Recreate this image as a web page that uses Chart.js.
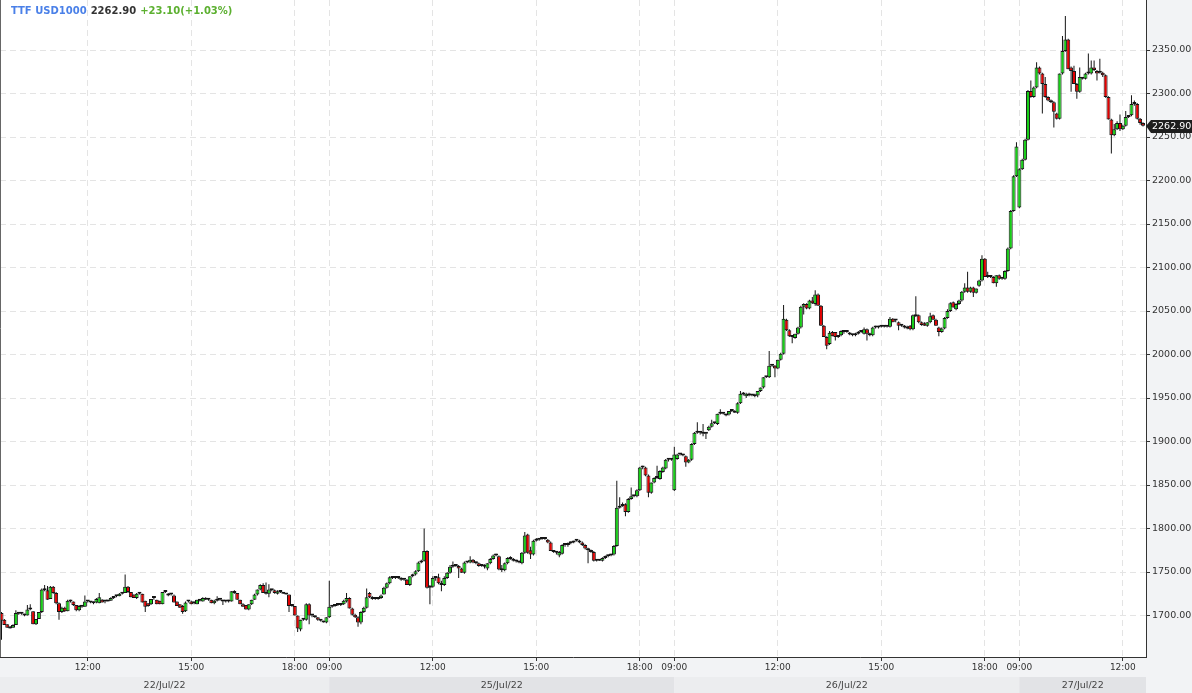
<!DOCTYPE html>
<html>
<head>
<meta charset="utf-8">
<script src="https://cdn.jsdelivr.net/npm/chart.js@4.4.0/dist/chart.umd.min.js"></script>
<style>
  html, body { margin: 0; padding: 0; background: #fff; overflow: hidden; }
  #wrap { width: 1192px; height: 693px; }
</style>
</head>
<body>
<div id="wrap"><canvas id="chart" width="1192" height="693"></canvas></div>
<script>
// instrument header
const symbolName = "TTF USD1000";
const lastPrice = 2262.90;
const priceChange = 23.10;
const pctChange = 1.03;

// sessions: date label and time of the first 5-minute bar shown
const dayLabels = ["22/Jul/22", "25/Jul/22", "26/Jul/22", "27/Jul/22"];
const firstBarTime = ["09:30", "09:00", "09:00", "09:00"];

// x axis labels: [session, time]
const timeTicks = [
    [0, "12:00"], [0, "15:00"], [0, "18:00"],
    [1, "09:00"], [1, "12:00"], [1, "15:00"], [1, "18:00"],
    [2, "09:00"], [2, "12:00"], [2, "15:00"], [2, "18:00"],
    [3, "09:00"], [3, "12:00"],
];
const yTicks = [1700, 1750, 1800, 1850, 1900, 1950, 2000, 2050, 2100, 2150, 2200, 2250, 2300, 2350];

// 5-minute candles [open, high, low, close]
const day1 = [
    [1703,1704,1672,1694],[1695,1696,1689,1689],[1690,1690,1686,1686],[1687,1688,1685,1685],[1686,1690,1686,1689],
    [1689,1706,1689,1703],[1703,1704,1701,1702],[1702,1703,1701,1702],[1701,1702,1699,1700],[1700,1712,1700,1707],
    [1707,1713,1706,1707],[1705,1705,1690,1690],[1690,1696,1689,1696],[1696,1704,1696,1704],[1704,1731,1703,1730],
    [1730,1735,1728,1729],[1729,1734,1718,1718],[1719,1734,1719,1733],[1733,1734,1725,1726],[1726,1727,1713,1714],
    [1714,1715,1695,1704],[1704,1710,1703,1709],[1709,1710,1704,1705],[1705,1718,1705,1717],[1717,1718,1715,1716],
    [1716,1716,1711,1712],[1712,1712,1705,1706],[1706,1712,1705,1711],[1711,1712,1709,1710],[1710,1723,1710,1716],
    [1716,1717,1715,1716],[1716,1716,1714,1715],[1714,1716,1713,1716],[1715,1720,1714,1719],[1714,1726,1714,1721],
    [1718,1719,1715,1715],[1716,1717,1714,1716],[1716,1718,1716,1717],[1717,1721,1717,1720],[1720,1722,1719,1721],
    [1722,1723,1721,1722],[1722,1726,1722,1725],[1725,1726,1724,1725],[1726,1747,1726,1733],[1733,1734,1726,1727],
    [1727,1727,1721,1721],[1724,1724,1720,1720],[1720,1726,1719,1725],[1725,1726,1724,1725],[1725,1725,1715,1715],
    [1717,1717,1704,1710],[1714,1714,1710,1711],[1713,1719,1712,1719],[1720,1721,1718,1720],[1718,1718,1713,1713],
    [1717,1717,1713,1713],[1713,1727,1713,1727],[1727,1728,1726,1727],[1723,1726,1722,1725],[1724,1725,1723,1724],
    [1723,1724,1715,1715],[1716,1716,1711,1711],[1713,1713,1709,1709],[1711,1712,1702,1704],[1705,1716,1704,1715],
    [1716,1717,1715,1716],[1716,1717,1713,1713],[1714,1715,1713,1714],[1713,1718,1713,1718],[1717,1718,1716,1717],
    [1716,1721,1716,1720],[1720,1721,1718,1718],[1718,1719,1717,1718],[1718,1718,1714,1714],[1714,1718,1713,1717],
    [1717,1722,1716,1718],[1718,1719,1717,1718],[1718,1718,1712,1716],[1716,1717,1715,1716],[1716,1718,1715,1718],
    [1716,1728,1716,1728],[1728,1729,1725,1726],[1726,1726,1718,1718],[1718,1718,1713,1713],[1713,1714,1710,1710],
    [1712,1712,1707,1707],[1707,1713,1706,1713],[1713,1718,1712,1718],[1718,1725,1718,1724],[1724,1730,1723,1730],
    [1730,1736,1729,1735],[1735,1737,1726,1726],[1726,1738,1724,1725],[1725,1736,1721,1730],[1729,1730,1728,1729],
    [1729,1730,1725,1726],[1725,1729,1724,1728],[1728,1728,1726,1727],[1727,1727,1725,1725],[1725,1726,1724,1724],
    [1724,1724,1704,1711],[1711,1712,1710,1711],[1711,1711,1700,1700],[1700,1700,1681,1685],[1684,1695,1682,1695],
    [1695,1696,1694,1695],[1695,1714,1694,1713],[1713,1714,1690,1700],[1700,1701,1698,1700],[1700,1700,1697,1698],
    [1698,1698,1694,1695],[1695,1696,1693,1694],[1694,1694,1692,1692],[1692,1698,1691,1698],
];
const day2 = [
    [1698,1740,1697,1710],[1710,1712,1709,1711],[1711,1712,1710,1712],[1712,1713,1711,1712],[1712,1714,1711,1713],
    [1713,1718,1712,1717],[1716,1726,1715,1720],[1720,1721,1708,1708],[1708,1709,1700,1701],[1701,1702,1697,1698],
    [1698,1699,1687,1692],[1692,1705,1690,1704],[1704,1710,1703,1709],[1709,1731,1708,1721],[1726,1727,1720,1721],
    [1721,1722,1718,1719],[1719,1720,1718,1719],[1719,1721,1718,1720],[1720,1724,1719,1723],[1724,1733,1724,1732],
    [1732,1738,1731,1737],[1737,1745,1736,1744],[1744,1745,1742,1743],[1743,1744,1742,1743],[1743,1744,1742,1743],
    [1743,1744,1740,1741],[1741,1742,1740,1741],[1741,1742,1735,1735],[1735,1745,1734,1745],[1745,1748,1744,1747],
    [1747,1752,1746,1751],[1751,1762,1750,1761],[1761,1764,1760,1763],[1763,1800,1762,1774],[1774,1775,1731,1732],
    [1732,1735,1713,1733],[1733,1745,1732,1743],[1743,1745,1740,1744],[1744,1748,1736,1737],[1737,1740,1728,1735],
    [1735,1745,1734,1743],[1743,1750,1742,1749],[1749,1758,1748,1756],[1756,1762,1755,1758],[1758,1759,1756,1757],
    [1757,1758,1743,1754],[1754,1755,1749,1749],[1749,1762,1748,1761],[1761,1762,1760,1761],[1761,1768,1760,1764],
    [1764,1765,1760,1761],[1761,1762,1759,1760],[1760,1761,1756,1757],[1757,1758,1756,1757],[1756,1759,1754,1756],
    [1754,1760,1752,1760],[1760,1766,1759,1765],[1765,1770,1764,1769],[1769,1771,1768,1769],[1768,1769,1752,1753],
    [1753,1758,1750,1752],[1752,1761,1751,1760],[1760,1767,1759,1766],[1766,1768,1764,1765],[1765,1766,1762,1763],
    [1763,1764,1761,1762],[1762,1763,1760,1761],[1760,1773,1759,1772],[1772,1796,1771,1792],[1793,1794,1771,1772],
    [1775,1779,1765,1770],[1770,1787,1769,1786],[1786,1789,1785,1787],[1787,1789,1786,1788],[1788,1789,1787,1788],
    [1788,1789,1787,1788],[1787,1788,1783,1784],[1784,1785,1774,1774],[1774,1775,1772,1773],[1773,1774,1770,1772],
    [1769,1774,1767,1773],[1771,1782,1770,1781],[1781,1782,1779,1781],[1781,1784,1779,1783],[1783,1785,1782,1784],
    [1784,1786,1783,1785],[1786,1788,1785,1786],[1786,1787,1783,1784],[1784,1785,1780,1781],[1781,1782,1776,1777],
    [1777,1778,1760,1775],[1775,1776,1772,1773],[1773,1774,1762,1763],[1763,1765,1762,1764],[1764,1765,1763,1763],
    [1763,1767,1762,1766],[1766,1769,1765,1768],[1768,1770,1767,1769],[1769,1771,1768,1770],[1770,1781,1769,1780],
    [1780,1855,1779,1824],[1824,1836,1823,1826],[1826,1830,1825,1828],[1828,1829,1814,1819],[1819,1835,1818,1834],
    [1834,1847,1833,1837],[1837,1838,1836,1837],[1837,1845,1836,1844],[1844,1871,1843,1870],[1870,1872,1868,1870],
    [1870,1871,1860,1861],[1861,1862,1836,1841],[1841,1853,1840,1853],[1853,1859,1852,1858],[1858,1872,1857,1858],
    [1857,1867,1856,1866],[1865,1871,1864,1870],[1869,1880,1868,1879],[1879,1881,1877,1879],[1879,1880,1878,1879],
];
const day3 = [
    [1844,1894,1843,1885],[1880,1886,1879,1885],[1885,1886,1884,1885],[1885,1886,1883,1884],[1883,1884,1871,1876],
    [1876,1880,1875,1879],[1879,1898,1878,1897],[1897,1911,1896,1910],[1910,1922,1909,1910],[1910,1911,1908,1910],
    [1910,1920,1906,1909],[1909,1910,1903,1910],[1913,1918,1912,1917],[1917,1925,1916,1921],[1921,1922,1920,1921],
    [1920,1932,1919,1932],[1932,1937,1931,1932],[1932,1933,1931,1932],[1931,1932,1929,1930],[1931,1935,1930,1935],
    [1935,1936,1934,1935],[1935,1936,1933,1933],[1933,1945,1932,1944],[1944,1958,1943,1955],[1955,1957,1953,1954],
    [1952,1956,1950,1955],[1955,1956,1952,1953],[1953,1954,1952,1953],[1954,1955,1951,1952],[1953,1958,1951,1958],
    [1958,1962,1957,1962],[1962,1974,1961,1974],[1974,1975,1973,1974],[1974,2004,1973,1987],[1987,1988,1986,1987],
    [1987,1988,1974,1984],[1984,1994,1983,1994],[1994,2002,1993,2001],[2001,2057,2000,2041],[2040,2041,2027,2028],
    [2028,2029,2020,2021],[2021,2022,2013,2020],[2019,2024,2018,2024],[2024,2032,2023,2031],[2031,2056,2030,2055],
    [2055,2059,2046,2058],[2058,2059,2052,2053],[2053,2063,2052,2062],[2062,2066,2058,2059],[2058,2074,2056,2069],
    [2069,2070,2056,2056],[2056,2057,2033,2033],[2033,2034,2020,2020],[2020,2021,2006,2010],[2012,2027,2011,2025],
    [2026,2027,2021,2021],[2026,2026,2016,2020],[2020,2022,2019,2020],[2022,2028,2021,2027],[2026,2027,2024,2026],
    [2026,2027,2025,2026],[2025,2026,2022,2023],[2022,2024,2021,2023],[2022,2025,2021,2024],[2024,2027,2023,2026],
    [2026,2028,2025,2027],[2024,2031,2023,2029],[2029,2030,2016,2024],[2024,2025,2021,2022],[2022,2032,2021,2031],
    [2031,2033,2030,2031],[2031,2033,2030,2032],[2032,2033,2031,2032],[2032,2033,2031,2032],[2032,2033,2031,2032],
    [2032,2043,2031,2041],[2041,2042,2037,2037],[2039,2040,2037,2039],[2037,2038,2028,2033],[2033,2034,2032,2033],
    [2033,2034,2030,2031],[2030,2033,2029,2032],[2033,2034,2028,2029],[2029,2046,2028,2045],[2044,2067,2043,2044],
    [2045,2046,2036,2037],[2037,2038,2033,2034],[2036,2037,2033,2033],[2033,2037,2032,2037],[2037,2048,2036,2044],
    [2045,2046,2040,2040],[2040,2041,2033,2033],[2031,2032,2021,2026],[2026,2031,2025,2030],[2030,2043,2029,2042],
    [2042,2052,2041,2050],[2050,2060,2049,2059],[2060,2061,2054,2054],[2052,2059,2051,2058],[2058,2063,2057,2062],
    [2062,2073,2061,2072],[2072,2082,2071,2077],[2077,2095,2071,2072],[2072,2078,2071,2077],[2077,2078,2066,2071],
    [2071,2076,2070,2076],[2079,2086,2078,2085],[2085,2114,2084,2110],[2110,2111,2089,2089],[2089,2095,2088,2089],
    [2089,2090,2088,2089],[2089,2090,2082,2082],[2082,2091,2078,2091],[2091,2092,2086,2087],[2087,2088,2086,2087],
    [2087,2097,2086,2096],[2096,2123,2095,2122],[2122,2166,2121,2165],[2165,2206,2164,2205],[2205,2244,2204,2239],
];
const day4 = [
    [2169,2214,2168,2213],[2213,2225,2212,2224],[2224,2248,2223,2247],[2247,2304,2246,2303],[2303,2315,2295,2296],
    [2296,2308,2295,2307],[2307,2336,2306,2330],[2330,2331,2322,2323],[2323,2324,2277,2311],[2311,2319,2295,2296],
    [2296,2297,2291,2292],[2292,2293,2289,2290],[2290,2291,2261,2279],[2277,2278,2270,2271],[2271,2323,2270,2323],
    [2323,2366,2322,2349],[2349,2389,2348,2362],[2362,2363,2328,2328],[2330,2331,2302,2326],[2326,2332,2311,2311],
    [2311,2312,2294,2302],[2302,2330,2301,2319],[2318,2319,2316,2317],[2317,2324,2316,2323],[2323,2346,2322,2323],
    [2323,2338,2322,2330],[2330,2338,2326,2327],[2326,2327,2315,2323],[2324,2340,2323,2325],[2324,2325,2319,2321],
    [2321,2322,2295,2296],[2296,2297,2270,2270],[2270,2271,2231,2252],[2252,2265,2251,2259],[2259,2268,2258,2266],
    [2266,2276,2257,2259],[2259,2264,2258,2263],[2263,2280,2262,2273],[2273,2275,2272,2275],[2275,2298,2274,2288],
    [2288,2292,2286,2288],[2288,2289,2270,2271],[2271,2272,2264,2266],[2266,2267,2262,2262.9],
];

const days = [day1, day2, day3, day4];
const dayStart = [];
let count = 0;
days.forEach((d) => { dayStart.push(count); count += d.length; });
const candles = [].concat(...days);

function toMinutes(t) {
    const parts = t.split(":").map(Number);
    return parts[0] * 60 + parts[1];
}

// index of each labelled time (bars are 5 minutes apart)
const tickIndex = timeTicks.map(([d, t]) => dayStart[d] + (toMinutes(t) - toMinutes(firstBarTime[d])) / 5);
const tickText = {};
tickIndex.forEach((v, k) => { tickText[v] = timeTicks[k][1]; });

const upColor = "#16d016";
const downColor = "#e30000";
const edgeColor = "#141414";

const wickData = candles.map((c, i) => ({ x: i, y: [c[2], c[1]] }));
const bodyData = candles.map((c, i) => ({ x: i, y: [Math.min(c[0], c[3]), Math.max(c[0], c[3])] }));
const bodyColors = candles.map((c) => (c[3] > c[0] ? upColor : c[3] < c[0] ? downColor : edgeColor));

const W = 1192, H = 693;

const framePlugin = {
    id: "frame",
    beforeDraw(chart) {
        const { ctx, chartArea: a, scales } = chart;
        const x = scales.x;
        ctx.save();
        ctx.fillStyle = "#ffffff";
        ctx.fillRect(0, 0, W, H);
        ctx.fillStyle = "#f2f3f5";
        ctx.fillRect(a.right, 0, W - a.right, H);
        ctx.fillRect(0, a.bottom, W, H - a.bottom);

        // date band
        ctx.font = "9.5px 'DejaVu Sans'";
        ctx.textAlign = "center";
        ctx.textBaseline = "middle";
        for (let d = 0; d < dayLabels.length; d++) {
            const x0 = d === 0 ? a.left : x.getPixelForValue(dayStart[d]);
            const x1 = d === dayLabels.length - 1 ? a.right : x.getPixelForValue(dayStart[d + 1]);
            ctx.fillStyle = d % 2 ? "#e2e3e6" : "#ecedef";
            ctx.fillRect(x0, 677, x1 - x0, H - 677);
            ctx.fillStyle = "#444";
            ctx.fillText(dayLabels[d], (x0 + x1) / 2, 685.5);
        }
        ctx.restore();
    },
    afterDraw(chart) {
        const { ctx, chartArea: a, scales } = chart;
        ctx.save();
        // left frame line
        ctx.strokeStyle = "#666";
        ctx.lineWidth = 1;
        ctx.beginPath();
        ctx.moveTo(0.5, 0);
        ctx.lineTo(0.5, a.bottom);
        ctx.stroke();

        // header text
        ctx.font = "bold 10px 'DejaVu Sans'";
        ctx.textAlign = "left";
        ctx.textBaseline = "middle";
        let tx = 11;
        const parts = [
            [symbolName, "#4a80e8"],
            [lastPrice.toFixed(2), "#333333"],
            ["+" + priceChange.toFixed(2) + "(+" + pctChange.toFixed(2) + "%)", "#5cb030"],
        ];
        parts.forEach(([s, col]) => {
            ctx.fillStyle = col;
            ctx.fillText(s, tx, 11.5);
            tx += ctx.measureText(s).width + 4;
        });

        // last price tag
        const py = Math.round(scales.y.getPixelForValue(lastPrice));
        ctx.fillStyle = "#1e1e1e";
        ctx.beginPath();
        ctx.moveTo(a.right, py);
        ctx.lineTo(a.right + 5, py - 6);
        ctx.lineTo(W, py - 6);
        ctx.lineTo(W, py + 7);
        ctx.lineTo(a.right + 5, py + 7);
        ctx.closePath();
        ctx.fill();
        ctx.fillStyle = "#ffffff";
        ctx.font = "9.5px 'DejaVu Sans'";
        ctx.fillText(lastPrice.toFixed(2), a.right + 6, py + 0.5);
        ctx.restore();
    },
};

const gridOpts = {
    color: "#e4e4e4",
    lineWidth: 1,
    offset: false,
    drawTicks: true,
    tickLength: 4,
    tickColor: "#333",
    tickBorderDash: [],
};

new Chart(document.getElementById("chart"), {
    type: "bar",
    data: {
        datasets: [
            {
                label: "body",
                data: bodyData,
                backgroundColor: bodyColors,
                borderColor: edgeColor,
                borderWidth: 1,
                borderSkipped: false,
                barThickness: 4,
                minBarLength: 2,
                inflateAmount: 0,
                grouped: false,
                order: 1,
            },
            {
                label: "wick",
                data: wickData,
                backgroundColor: edgeColor,
                borderWidth: 0,
                barThickness: 1,
                inflateAmount: 0,
                grouped: false,
                order: 2,
            },
        ],
    },
    options: {
        responsive: false,
        animation: false,
        devicePixelRatio: 1,
        events: [],
        layout: { padding: 0 },
        plugins: {
            legend: { display: false },
            tooltip: { enabled: false },
        },
        scales: {
            x: {
                type: "linear",
                offset: false,
                min: -0.52,
                max: 398.05,
                afterBuildTicks: (s) => { s.ticks = tickIndex.map((v) => ({ value: v })); },
                afterFit: (s) => { s.height = 36; s.paddingLeft = 0; s.paddingRight = 0; },
                ticks: {
                    autoSkip: false,
                    maxRotation: 0,
                    minRotation: 0,
                    padding: 1,
                    color: "#333",
                    font: { family: "DejaVu Sans", size: 9 },
                    callback: (v) => tickText[v] || "",
                },
                grid: gridOpts,
                border: { display: true, color: "#333", width: 1, dash: [6, 4] },
            },
            y: {
                type: "linear",
                position: "right",
                min: 1652.3,
                max: 2407.5,
                afterBuildTicks: (s) => { s.ticks = yTicks.map((v) => ({ value: v })); },
                afterFit: (s) => { s.width = 46; s.paddingTop = 0; s.paddingBottom = 0; },
                ticks: {
                    padding: 2,
                    color: "#333",
                    font: { family: "DejaVu Sans", size: 9.5 },
                    callback: (v) => v.toFixed(2),
                },
                grid: gridOpts,
                border: { display: true, color: "#333", width: 1, dash: [6, 4] },
            },
        },
    },
    plugins: [framePlugin],
});
</script>
</body>
</html>
